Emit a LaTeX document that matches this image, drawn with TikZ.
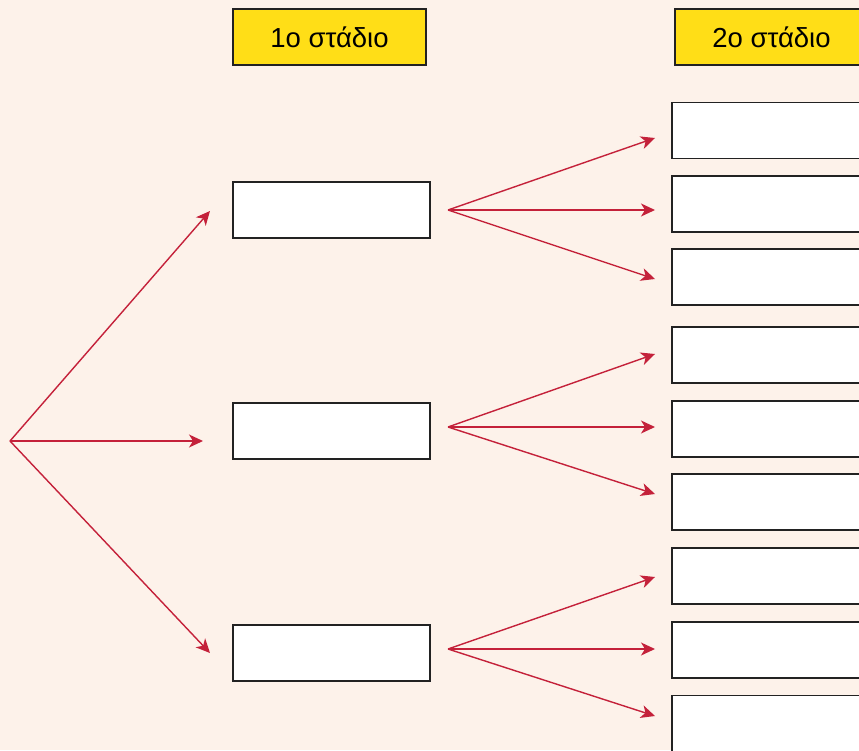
\documentclass[tikz,border=0pt]{standalone}
\usepackage{fontspec}
\setmainfont{Liberation Sans}
\usetikzlibrary{arrows.meta}
\definecolor{paper}{HTML}{FDF2EA}
\definecolor{stagey}{HTML}{FFDE17}
\definecolor{branch}{HTML}{C4213A}
\definecolor{edge}{HTML}{222222}
\tikzset{
  header/.style={draw=edge, line width=1.3pt, fill=stagey, minimum width=193pt, minimum height=56pt,
    inner sep=0pt, font=\fontsize{27.5}{32}\selectfont},
  blank/.style={draw=edge, line width=1.3pt, fill=white, minimum width=197pt, minimum height=56pt, inner sep=0pt},
  branchto/.style={draw=branch, line width=1.4pt, -{Stealth[length=14pt,width=13pt,inset=4pt]}}
}
\begin{document}
\begin{tikzpicture}[x=1pt,y=-1pt]
  \useasboundingbox (0,0) rectangle (859,750);
  \fill[paper] (0,0) rectangle (859,750);
  \clip (0,0) rectangle (859,750);

  % column headers
  \node[header] (h1) at (329.5,37) {1ο στάδιο};
  \node[header] (h2) at (771.5,37) {2ο στάδιο};

  % first stage
  \node[blank] (a1) at (331.5,210) {};
  \node[blank] (a2) at (331.5,431) {};
  \node[blank] (a3) at (331.5,653) {};

  % second stage
  \foreach \i/\y in {1/130.5,2/204,3/277,4/355,5/429,6/502,7/576,8/650,9/723.5}
    \node[blank] (b\i) at (770.5,\y) {};

  % branch points and arrow ends
  \coordinate (r) at (10,441);
  \coordinate (ra1) at (210,211);
  \coordinate (ra2) at (203,441);
  \coordinate (ra3) at (210,653);
  \draw[branchto] (r) -- (ra1);
  \draw[branchto] (r) -- (ra2);
  \draw[branchto] (r) -- (ra3);

  \foreach \k/\sy/\t in {1/210/{138,210,279},2/427/{354,427,494},3/649/{577,649,716}}{
    \coordinate (s\k) at (448,\sy);
    \foreach \ty [count=\j] in \t {
      \coordinate (t\k\j) at (655,\ty);
      \draw[branchto] (s\k) -- (t\k\j);
    }
  }
\end{tikzpicture}
\end{document}
